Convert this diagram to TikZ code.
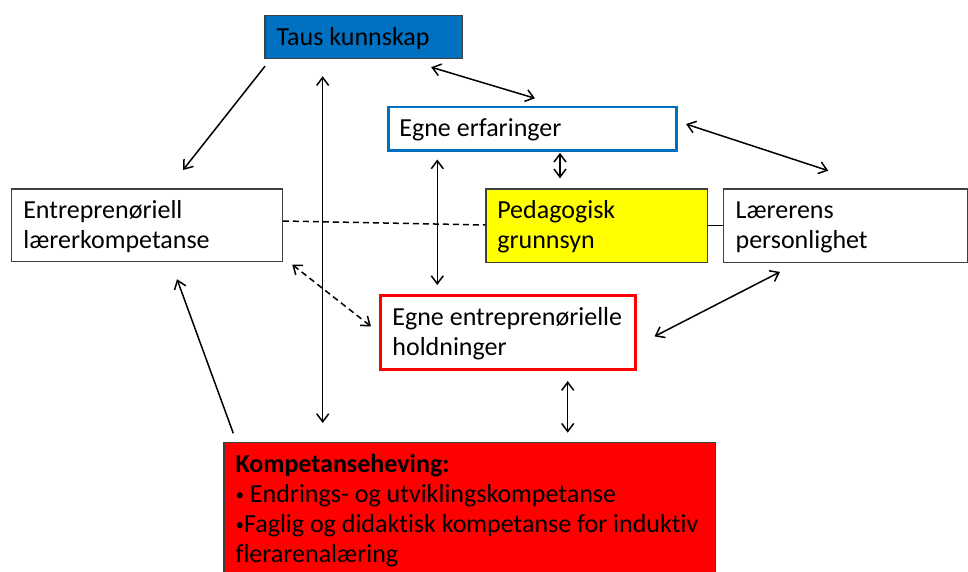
\documentclass[tikz,border=0pt]{standalone}
\usepackage{fontspec}
\setmainfont{Carlito}[Ligatures=NoCommon]
\usetikzlibrary{arrows.meta,calc}

\definecolor{boxline}{HTML}{404040}
\definecolor{tausblue}{HTML}{0070C0}
\definecolor{pedyellow}{HTML}{FFFF00}
\definecolor{komred}{HTML}{FF0000}

% small list bullet
\newcommand{\smallbul}{\raisebox{1.8pt}{\fontsize{17}{17}\selectfont •}}

\tikzset{
  conn/.style={line width=1.5pt, black},
  barb/.tip={Straight Barb[length=8pt,width=12pt,line width=1.5pt]},
  dashline/.style={dash pattern=on 6pt off 4pt},
  % box with top-left corner at the node position; text starts #1 from the left edge
  card/.style args={#1/#2/#3}{
    anchor=north west, rectangle, draw=boxline, line width=1.2pt,
    minimum width=#2, minimum height=#3, inner xsep=#1, inner ysep=2pt,
    text width={#2-2*#1}, text height=16.5pt,
    font=\fontsize{26}{30}\selectfont,
    execute at begin node={\raggedright\spaceskip=0pt\xspaceskip=0pt
      \hyphenpenalty=10000\exhyphenpenalty=10000}
  },
  oneline/.style={text depth=0pt},
  twoline/.style={text depth=30pt}
}

\begin{document}
\begin{tikzpicture}[x=1pt,y=-1pt]
\clip (0,0) rectangle (968,572);
\fill[white] (0,0) rectangle (968,572);

% boxes
\node[card={11.7pt/197.7pt/43.3pt}, oneline, fill=tausblue] (taus) at (264.3,15) {Taus kunnskap};
\node[card={10.7pt/288pt/43.3pt}, oneline, draw=tausblue, line width=2.8pt] (erf) at (387.3,105.7) {Egne erfaringer};
\node[card={11.4pt/221.4pt/73.4pt}, twoline, fill=pedyellow] (ped) at (485.3,188.3) {Pedagogisk\\grunnsyn};
\node[card={11.7pt/270.7pt/72.7pt}, twoline] (entr) at (11,188.3) {Entreprenøriell\\lærerkompetanse};
\node[card={12.3pt/243.8pt/73.4pt}, twoline] (laer) at (722.7,188.3) {Lærerens\\personlighet};
\node[card={11.7pt/254.7pt/73.4pt}, twoline, draw=komred, line width=2.8pt] (hold) at (379.3,294.3) {Egne entreprenørielle\\holdninger};
\node[card={11.7pt/491.7pt/40pt}, fill=komred, inner ysep=0pt, text height=30pt, text depth=130pt] (komp) at (223.3,441.7)
  {\textbf{Kompetanseheving:}\\\smallbul\ Endrings- og utviklingskompetanse\\\smallbul Faglig og didaktisk kompetanse for induktiv\\flerarenalæring};

% connectors
\draw[conn, -barb] ($(taus.south west)+(0.7,6.7)$) -- ($(entr.north west)+(172,-18.3)$);
\draw[conn, barb-barb] ($(taus.south west)+(58.4,16.7)$) -- ($(komp.north west)+(99.4,-18.7)$);
\draw[conn, barb-barb] ($(taus.south east)+(-32,7.7)$) -- ($(erf.north west)+(147.7,-7.4)$);
\draw[conn, barb-barb] ($(erf.east)+(8,-4.65)$) -- ($(laer.north west)+(105.6,-17.6)$);
\draw[conn, barb-barb] ($(erf.south west)+(172.7,1)$) -- ($(ped.north west)+(74.7,-10)$);
\draw[conn, barb-barb] ($(erf.south west)+(50,7.7)$) -- ($(hold.north west)+(58,-9.3)$);
\draw[conn, dashline] ($(entr.north east)+(0,32.7)$) -- ($(ped.north west)+(0,36.7)$);
\draw[conn] (ped.east) -- (laer.west);
\draw[conn, dashline, barb-barb] ($(entr.south east)+(9.3,2.3)$) -- ($(hold.west)+(-8.3,-6)$);
\draw[conn, barb-barb] ($(laer.south west)+(57.3,9)$) -- ($(hold.east)+(17.7,4)$);
\draw[conn, barb-barb] ($(hold.south west)+(188.4,10.6)$) -- ($(komp.north west)+(344.4,-9)$);
\draw[conn, -barb] ($(komp.north west)+(10,-8.4)$) -- ($(entr.south west)+(166,17)$);
\end{tikzpicture}
\end{document}
